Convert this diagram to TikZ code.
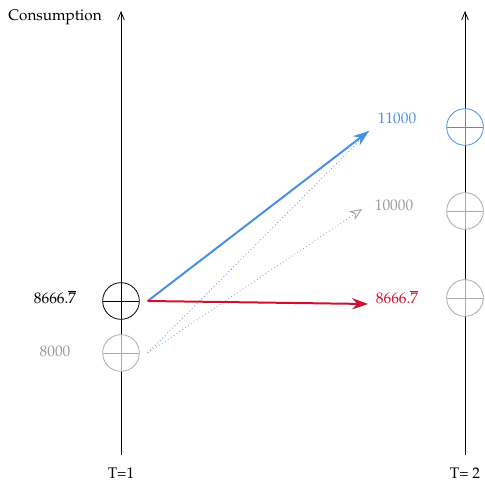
\documentclass[tikz,border=0pt]{standalone}
\usepackage[T1]{fontenc}
\usepackage{mathpazo}
\usetikzlibrary{arrows.meta}
\definecolor{cblue}{HTML}{4A90E2}
\definecolor{cred}{HTML}{D0102E}
\definecolor{cgray}{HTML}{AAAAAA}
\definecolor{tgray}{HTML}{999999}

\begin{document}
\begin{tikzpicture}[x=0.75pt, y=-0.75pt,
  cstate/.style={circle, draw=#1, fill=white, line width=0.6pt, minimum size=27.5pt, inner sep=0pt,
    path picture={\draw[#1, line width=0.6pt] (path picture bounding box.west) -- (path picture bounding box.east)
      (path picture bounding box.north) -- (path picture bounding box.south);}},
  lbl/.style={font=\fontsize{11.5}{13}\selectfont},
  axis/.style={line width=0.6pt, -{Straight Barb[length=6pt, width=5pt]}},
  move/.style={line width=1.5pt, -{Stealth[length=12pt, width=8.5pt, inset=4pt]}}]
\useasboundingbox (0,0) rectangle (485,481);
% time axes
\coordinate (b1) at (121,455);
\coordinate (t1) at (121,11);
\coordinate (b2) at (465,455);
\coordinate (t2) at (465,11);
\draw[axis] (b1) -- (t1);
\draw[axis] (b2) -- (t2);
\node[lbl] (ylab) at (55,17) {Consumption};
\node[lbl] (p1) at (121,473) {T=1};
\node[lbl] (p2) at (465,473) {T= 2};
% states at T=1
\node[cstate=black] (now) at (121,301) {};
\node[cstate=cgray] (low) at (121,353) {};
\node[lbl, text=black] (nowlab) at (55,297) {8666.$\overline{7}$};
\node[lbl, text=tgray] (lowlab) at (55,351) {8000};
% states at T=2
\node[cstate=cblue] (hi2) at (465,127) {};
\node[cstate=cgray] (mid2) at (465,211) {};
\node[cstate=cgray] (eq2) at (465,298) {};
\coordinate (hiend) at (369,131);
\coordinate (midend) at (362,209);
\coordinate (eqend) at (368,304);
\node[lbl, text=cblue] (hilab) at (397,118) {11000};
\node[lbl, text=tgray] (midlab) at (394,205) {10000};
\node[lbl, text=cred] (eqlab) at (397,297) {8666.$\overline{7}$};
% transitions
\draw[cblue, line width=0.6pt, dotted] ([xshift=6pt]low.east) -- (hiend);
\draw[tgray, line width=0.6pt, dotted, -{Stealth[open, length=9pt, width=7.5pt, inset=2.5pt]}] ([xshift=6pt]low.east) -- (midend);
\draw[move, cblue] ([xshift=6pt]now.east) -- (hiend);
\draw[move, cred] ([xshift=6pt]now.east) -- (eqend);
\end{tikzpicture}
\end{document}
